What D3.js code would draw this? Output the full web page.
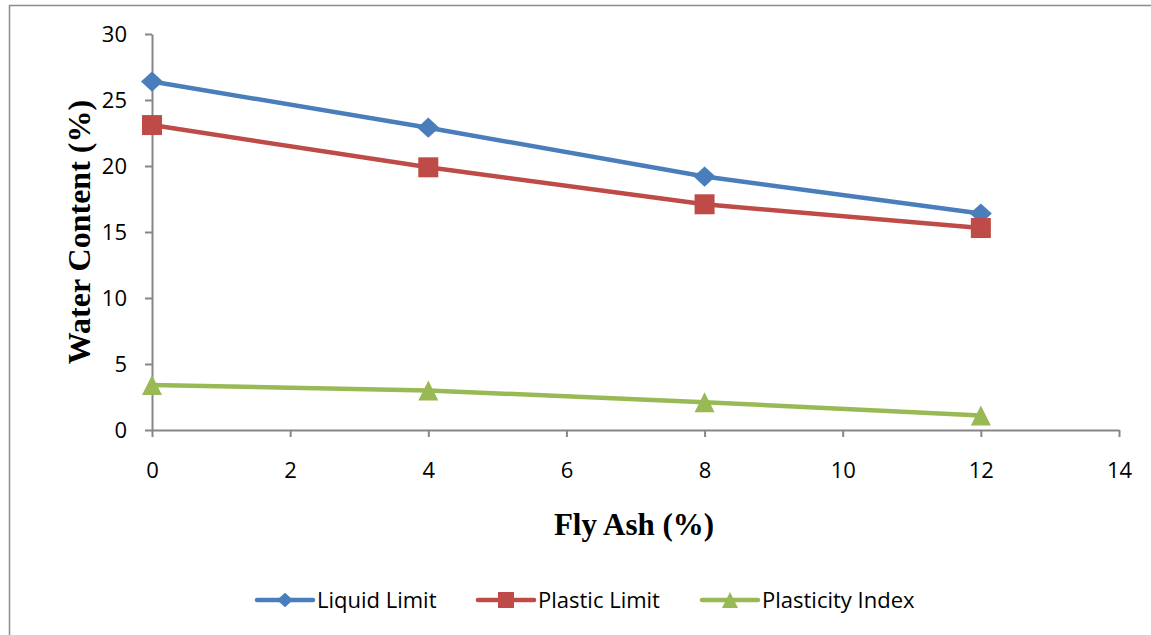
<!DOCTYPE html>
<html><head><meta charset="utf-8">
<script src="https://cdn.jsdelivr.net/npm/d3@7"></script>
<style>body{margin:0;background:#fff}svg{display:block}</style>
</head><body>
<svg id="c" width="1151" height="635"></svg>
<script>
const flyAsh = [0, 4, 8, 12];
const liquidLimit = [26.4, 22.9, 19.2, 16.4];
const plasticLimit = [23.1, 19.9, 17.1, 15.3];
const plasticityIndex = [3.4, 3.0, 2.1, 1.1];
const seriesNames = ["Liquid Limit", "Plastic Limit", "Plasticity Index"];
const xTicks = [0, 2, 4, 6, 8, 10, 12, 14];
const yTicks = [0, 5, 10, 15, 20, 25, 30];

const svg = d3.select("#c");
svg.append("rect").attr("x", 9.5).attr("y", 5.5).attr("width", 1150).attr("height", 640)
  .attr("fill", "#fff").attr("stroke", "#8c8c8c").attr("stroke-width", 1.5);

const x = d3.scaleLinear().domain([0, 14]).range([152, 1119]);
const y = d3.scaleLinear().domain([0, 30]).range([430, 34]);
const axisColor = "#868686";
const tickFont = "'Open Sans', Lato, sans-serif";
const serif = "'Liberation Serif', 'Times New Roman', serif";

const xAxis = svg.append("g").attr("transform", "translate(0,430)")
  .call(d3.axisBottom(x).tickValues(xTicks).tickSize(7).tickSizeOuter(0).tickPadding(25));
const yAxis = svg.append("g").attr("transform", "translate(152,0)")
  .call(d3.axisLeft(y).tickValues(yTicks).tickSize(7).tickSizeOuter(0).tickPadding(18));
[xAxis, yAxis].forEach(g => {
  g.select(".domain").attr("stroke", axisColor).attr("stroke-width", 2);
  g.selectAll(".tick line").attr("stroke", axisColor).attr("stroke-width", 2);
  g.selectAll("text").attr("fill", "#000").style("font-family", tickFont).style("font-size", "22px");
});

svg.append("text").attr("x", 634).attr("y", 535).attr("text-anchor", "middle")
  .style("font-family", serif).style("font-weight", "bold").style("font-size", "31px")
  .text("Fly Ash (%)");
svg.append("text").attr("transform", "translate(90,232) rotate(-90)").attr("text-anchor", "middle")
  .style("font-family", serif).style("font-weight", "bold").style("font-size", "32px")
  .text("Water Content (%)");

const colors = ["#4a7ebb", "#be4b48", "#98b954"];
function marker(i, s) {
  const h = s / 2;
  if (i === 0) return `M0,${-h * 0.92}L${h},0L0,${h * 0.92}L${-h},0Z`;
  if (i === 1) return `M${-h},${-h}H${h}V${h}H${-h}Z`;
  return `M0,${-h}L${h},${h}H${-h}Z`;
}
const markerSize = [22, 20, 20];
const data = [liquidLimit, plasticLimit, plasticityIndex];
const line = d3.line().x(d => x(d[0])).y(d => y(d[1]));

data.forEach((vals, i) => {
  const pts = flyAsh.map((f, j) => [f, vals[j]]);
  svg.append("path").attr("d", line(pts)).attr("fill", "none")
    .attr("stroke", colors[i]).attr("stroke-width", 4.5).attr("stroke-linejoin", "round");
  svg.selectAll(null).data(pts).enter().append("path")
    .attr("d", marker(i, markerSize[i]))
    .attr("transform", d => `translate(${x(d[0])},${y(d[1])})`)
    .attr("fill", colors[i]);
});

// legend
const legX = [257, 478, 702];
seriesNames.forEach((name, i) => {
  const g = svg.append("g").attr("transform", `translate(${legX[i]},600)`);
  g.append("line").attr("x1", 0).attr("x2", 56).attr("stroke", colors[i]).attr("stroke-width", 4.5).attr("stroke-linecap", "round");
  g.append("path").attr("d", marker(i, 16)).attr("transform", "translate(28,0)").attr("fill", colors[i]);
  g.append("text").attr("x", 60).attr("y", 8).style("font-family", tickFont).style("font-size", "22px").text(name);
});
</script>
</body></html>
